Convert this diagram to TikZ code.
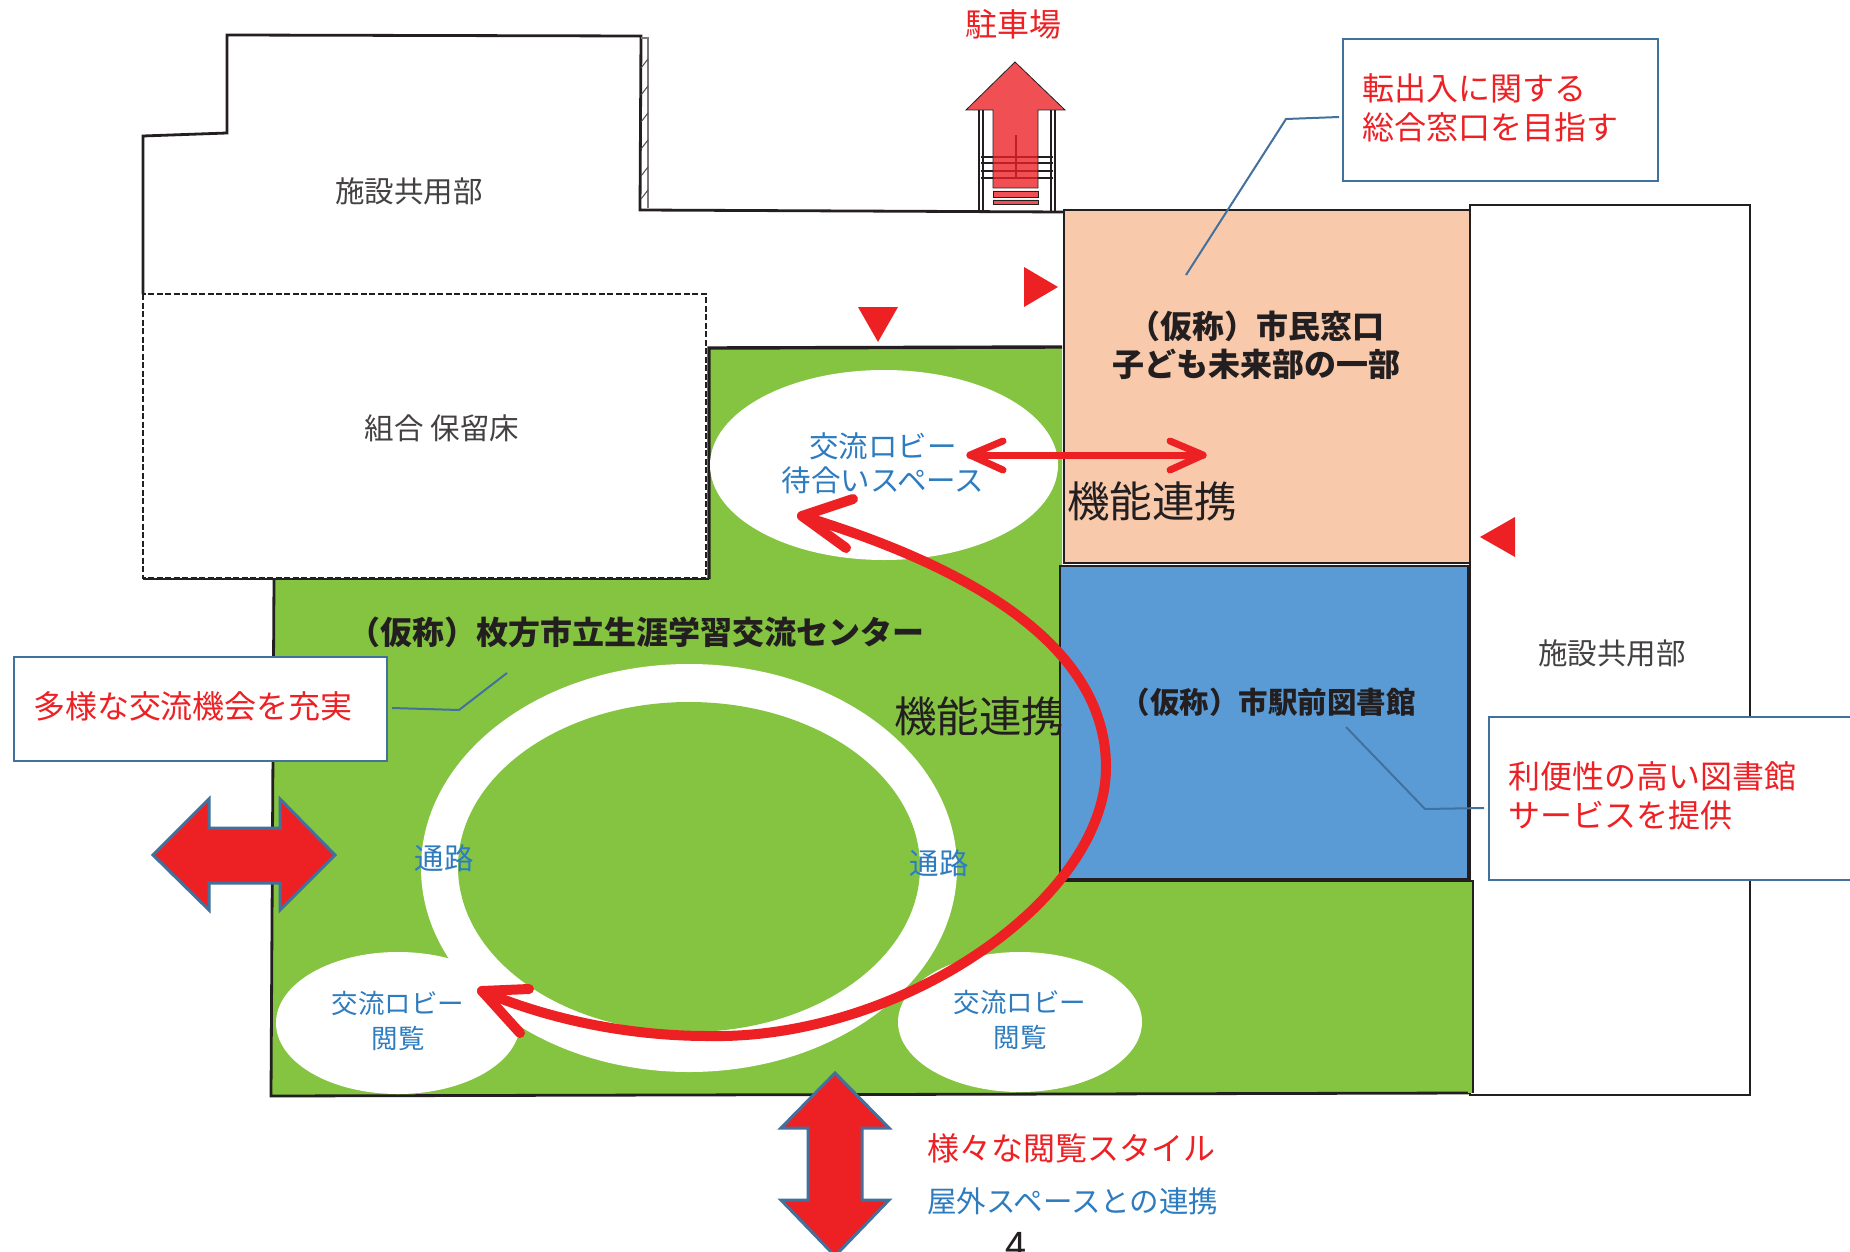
\documentclass[tikz,border=0pt]{standalone}
\usepackage{fontspec}
\setmainfont{Noto Sans CJK JP}
\definecolor{grn}{HTML}{85C441}
\definecolor{org}{HTML}{F8CAAB}
\definecolor{lib}{HTML}{5B9BD5}
\definecolor{rd}{HTML}{ED2024}
\definecolor{edge}{HTML}{41719C}
\definecolor{bltx}{HTML}{2E7CC0}
\definecolor{dk}{HTML}{231F20}
\tikzset{
  wall/.style={draw=dk,line width=2.8pt,line join=miter},
  callout/.style={draw=edge,line width=2.4pt,fill=white,inner sep=0pt},
  lead/.style={draw=edge,line width=2pt},
  thick red/.style={draw=rd,line width=7pt,line cap=round,line join=round},
  bigarrow/.style={draw=edge,fill=rd,line width=3pt,line join=miter},
  tri/.style={fill=rd,draw=none},
  stair/.style={draw=dk,line width=1.3pt},
  lbl/.style={text=dk!85,font=\fontsize{29.5}{33}\selectfont,inner sep=0pt,align=center},
  blbl/.style={text=dk,font=\bfseries\fontsize{32}{38}\selectfont,inner sep=0pt,align=center},
  rtx/.style={text=rd,font=\fontsize{32}{38.5}\selectfont,inner sep=0pt,align=left,anchor=west},
  btx/.style={text=bltx,font=\fontsize{29.5}{34}\selectfont,inner sep=0pt,align=center},
  big/.style={text=dk,font=\fontsize{42.5}{45}\selectfont,inner sep=0pt}
}
\begin{document}
\begin{tikzpicture}[x=1pt,y=-1pt]
\useasboundingbox (0,0) rectangle (1850,1252);
\clip (0,0) rectangle (1850,1252);
\fill[white] (0,0) rectangle (1850,1252);
% top-left common area
\draw[wall] (143,294) -- (143,136) -- (227,133) -- (227,35) -- (641,36) -- (640,210) -- (1064,212);
% ladder
\draw[draw=dk!60,line width=1.2pt] (641,38) -- (648,38) -- (648,208);
\foreach \yy in {68,95,122,149,176,199}
  \draw[draw=dk!80,line width=1pt] (641,\yy) -- (648,\yy-9);
% green floor
\fill[grn] (709,348) -- (1062,347) -- (1062,880) -- (1473,881) -- (1473,1093) -- (271,1096) -- (274,579) -- (709,579) -- cycle;
\draw[wall,line width=3.4pt] (709,579) -- (709,348) -- (1062,347);
\draw[wall] (274,579) -- (271,1096) -- (1473,1093);
% dashed reserve
\draw[draw=dk,line width=2.8pt,dash pattern=on 6pt off 2.5pt,fill=white] (143,294) rectangle (706,578);
\draw[wall] (143,579) -- (709,579);
% ring and ellipses
\fill[white] (689,868) ellipse [x radius=268,y radius=204];
\fill[grn] (689,867) ellipse [x radius=231,y radius=165];
\fill[white] (884,465) ellipse [x radius=174,y radius=95];
\fill[white] (398,1023) ellipse [x radius=122,y radius=71];
\fill[white] (1020,1022) ellipse [x radius=122,y radius=70];
% rooms
\draw[wall,fill=white] (1470,205) rectangle (1750,1095);
\draw[wall,fill=org] (1064,210) rectangle (1470,563);
\draw[wall,fill=lib] (1060,566) rectangle (1468,879);
\fill[grn] (1468,881) rectangle (1473,1093);
\draw[wall] (1060,881) -- (1473,881) -- (1473,1093);
% stairs to the car park
\draw[draw=dk,line width=1.8pt] (979,110) -- (979,211) (983,110) -- (983,211) (1051,110) -- (1051,211) (1055,110) -- (1055,211);
\foreach \yy in {157,163,171,178} \draw[stair] (981,\yy) -- (1053,\yy);
\draw[stair] (1016,135) -- (1016,178);
\draw[draw=dk,line width=0.8pt,fill=rd,fill opacity=.78] (1015,62) -- (1065,110) -- (1038,110) -- (1038,188) -- (993,188) -- (993,110) -- (966,110) -- cycle;
\draw[draw=dk,line width=0.8pt,fill=rd,fill opacity=.78] (993,191) rectangle (1038,197) (993,200) rectangle (1038,204);
% entry triangles
\fill[tri] (1024,267) -- (1058,287) -- (1024,307) -- cycle;
\fill[tri] (858,307) -- (898,307) -- (878,342) -- cycle;
\fill[tri] (1515,517) -- (1480,537) -- (1515,557) -- cycle;
% labels
\node[lbl] (n1) at (409,191) {施設共用部};
\node[lbl] (n2) at (442,428) {組合 保留床};
\node[lbl] (n3) at (1612,653) {施設共用部};
\node[blbl] (n4) at (1256,345) {（仮称）市民窓口\\子ども未来部の一部};
\node[blbl] (n5) at (636,632) {（仮称）枚方市立生涯学習交流センター};
\node[blbl,font=\bfseries\fontsize{29.5}{38}\selectfont] (n6) at (1268,702) {（仮称）市駅前図書館};
\node[btx] (n7) at (883,463) {交流ロビー\\待合いスペース};
\node[btx,font=\fontsize{26.5}{35}\selectfont] (n8) at (398,1021) {交流ロビー\\閲覧};
\node[btx,font=\fontsize{26.5}{35}\selectfont] (n9) at (1020,1020) {交流ロビー\\閲覧};
\node[btx] (n10) at (444,858) {通路};
\node[btx] (n11) at (939,863) {通路};
\node[big] (n12) at (1152,501) {機能連携};
\node[big] (n13) at (979,716) {機能連携};
\node[rtx,anchor=center] (n14) at (1013,24) {駐車場};
\node[rtx] (n15) at (927,1148) {様々な閲覧スタイル};
\node[btx,anchor=west] (n16) at (927,1201) {屋外スペースとの連携};
\node[text=dk,font=\fontsize{38}{40}\selectfont,inner sep=0pt] (n17) at (1016,1246) {4};
% callouts
\node[callout,minimum width=315pt,minimum height=142pt,anchor=north west] (b1) at (1342,38) {};
\node[rtx] (t1) at (1362,108) {転出入に関する\\総合窓口を目指す};
\node[callout,minimum width=373pt,minimum height=104pt,anchor=north west] (b2) at (13,656) {};
\node[rtx,anchor=center] (t2) at (193,706) {多様な交流機会を充実};
\node[callout,minimum width=380pt,minimum height=163pt,anchor=north west] (b3) at (1488,716) {};
\node[rtx] (t3) at (1508,796) {利便性の高い図書館\\サービスを提供};
\coordinate (c1a) at (1339,117); \coordinate (c1b) at (1286,119); \coordinate (c1c) at (1186,275);
\coordinate (c2a) at (392,708); \coordinate (c2b) at (459,710); \coordinate (c2c) at (507,673);
\coordinate (c3a) at (1484,808); \coordinate (c3b) at (1425,809); \coordinate (c3c) at (1346,727);
\draw[lead] (c1a) -- (c1b) -- (c1c);
\draw[lead] (c2a) -- (c2b) -- (c2c);
\draw[lead] (c3a) -- (c3b) -- (c3c);
% double arrows
\draw[bigarrow] (153,855) -- (209,799) -- (209,828) -- (280,828) -- (280,799) -- (335,855) -- (280,910) -- (280,883) -- (209,883) -- (209,910) -- cycle;
\draw[bigarrow] (835,1073) -- (889,1128) -- (862,1128) -- (862,1200) -- (889,1200) -- (835,1256) -- (781,1200) -- (808,1200) -- (808,1128) -- (781,1128) -- cycle;
% function links
\coordinate (h1) at (970,455); \coordinate (h2) at (1203,455);
\draw[thick red] (h1) -- (h2);
\draw[thick red] (1003,441) -- (h1) -- (1003,470);
\draw[thick red] (1170,441) -- (h2) -- (1170,470);
\coordinate (a1) at (802,516); \coordinate (a2) at (482,991);
\draw[thick red,line width=10pt] (a1) .. controls (980,570) and (1106,650) .. (1106,767)
  .. controls (1106,900) and (900,1040) .. (708,1036)
  .. controls (630,1036) and (550,1020) .. (a2);
\draw[thick red,line width=10pt] (853,499) -- (a1) -- (846,548);
\draw[thick red,line width=10pt] (529,989) -- (a2) -- (520,1033);
\end{tikzpicture}
\end{document}
